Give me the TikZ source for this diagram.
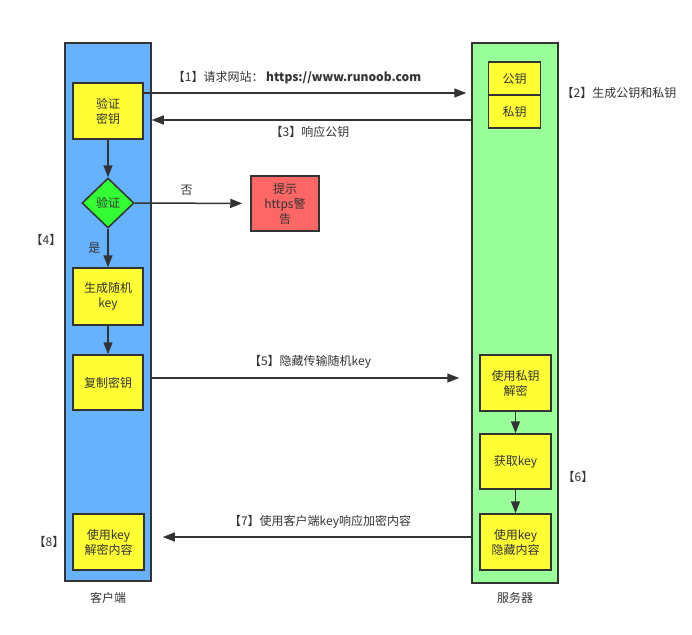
\documentclass[tikz,border=0pt]{standalone}
\usepackage{fontspec}
\setmainfont{Noto Sans CJK SC}
\usetikzlibrary{arrows.meta,shapes.geometric}
\definecolor{clientblue}{RGB}{102,178,255}
\definecolor{servergreen}{RGB}{153,255,153}
\definecolor{keyyellow}{RGB}{255,255,51}
\definecolor{warnred}{RGB}{255,102,102}
\definecolor{checkgreen}{RGB}{51,255,51}
\definecolor{edgegray}{RGB}{51,51,51}

\begin{document}
\begin{tikzpicture}[x=1pt,y=-1pt,font=\fontsize{12}{15}\selectfont,
  lane/.style={draw=edgegray,line width=1.5pt,minimum width=86pt,inner sep=0pt},
  keybox/.style={draw=edgegray,line width=1.5pt,fill=keyyellow,text=edgegray,align=center,minimum width=70pt,minimum height=56pt,inner sep=0pt},
  flow/.style={draw=edgegray,line width=1.5pt,-{Triangle[length=12pt,width=9pt]}},
  lbl/.style={text=edgegray,inner sep=0pt}]
\useasboundingbox (0,0) rectangle (692,634);
% the two lanes
\node[lane,fill=clientblue,minimum height=538pt] (client) at (108,312) {};
\node[lane,fill=servergreen,minimum height=540pt] (server) at (515,313) {};
\node[lbl] (clientname) at (108,598) {客户端};
\node[lbl] (servername) at (515,598) {服务器};
% client side
\node[keybox] (verify) at (108,111) {验证\\密钥};
\node[diamond,draw=edgegray,line width=1.5pt,fill=checkgreen,text=edgegray,minimum width=52pt,minimum height=50pt,inner sep=0pt] (check) at (108,203) {验证};
\node[keybox,fill=warnred,minimum width=68pt,minimum height=55pt] (warn) at (285,203.5) {提示\\https警\\告};
\node[keybox,minimum height=57pt] (genkey) at (108,296.5) {生成随机\\key};
\node[keybox,minimum height=55pt] (copykey) at (108,382.5) {复制密钥};
\node[keybox,minimum width=71pt] (decrypt) at (108.5,542) {使用key\\解密内容};
\node[lbl] (step4) at (46,240) {【4】};
\node[lbl] (step8) at (49,542) {【8】};
% server side
\node[keybox,minimum width=52pt,minimum height=33pt] (pubkey) at (514.5,78.5) {公钥};
\node[keybox,minimum width=52pt,minimum height=33pt] (privkey) at (514.5,111.5) {私钥};
\node[keybox,minimum width=71pt] (unlock) at (515.5,383) {使用私钥\\解密};
\node[keybox,minimum width=71pt,minimum height=55pt] (getkey) at (515.5,461.5) {获取key};
\node[keybox,minimum width=71pt] (hide) at (515.5,542) {使用key\\隐藏内容};
\node[lbl] (step2) at (619,93) {【2】生成公钥和私钥};
\node[lbl] (step6) at (578,477) {【6】};
% messages
\coordinate (req) at ([yshift=18pt]verify.east);
\coordinate (send) at (client.east |- copykey.east);
\coordinate (reply) at (server.west |- hide.west);
\draw[flow,shorten >=5pt] (req) -- (req -| server.west);
\node[lbl] (step1) at (297,78) {【1】请求网站： \textbf{https://www.runoob.com}};
\draw[flow] ([yshift=-9pt]server.west |- verify.east) -- ([yshift=-9pt]client.east |- verify.east);
\node[lbl] (step3) at (310,132) {【3】响应公钥};
\draw[flow,shorten >=12pt] ([yshift=4.5pt]send) -- ([yshift=4.5pt]send -| server.west);
\node[lbl] (step5) at (310,362) {【5】隐藏传输随机key};
\draw[flow,shorten >=11pt] ([yshift=5pt]reply) -- ([yshift=5pt]reply -| client.east);
\node[lbl] (step7) at (320,522) {【7】使用客户端key响应加密内容};
% inside the lanes
\draw[flow] (verify) -- (check);
\draw[flow,shorten >=8pt] (check) -- node[lbl,above=7pt,pos=0.45]{否} (warn);
\draw[flow] (check) -- node[lbl,left=7pt]{是} (genkey);
\draw[flow] (genkey) -- (copykey);
\draw[flow] (unlock) -- (getkey);
\draw[flow] (getkey) -- (hide);
\end{tikzpicture}
\end{document}
